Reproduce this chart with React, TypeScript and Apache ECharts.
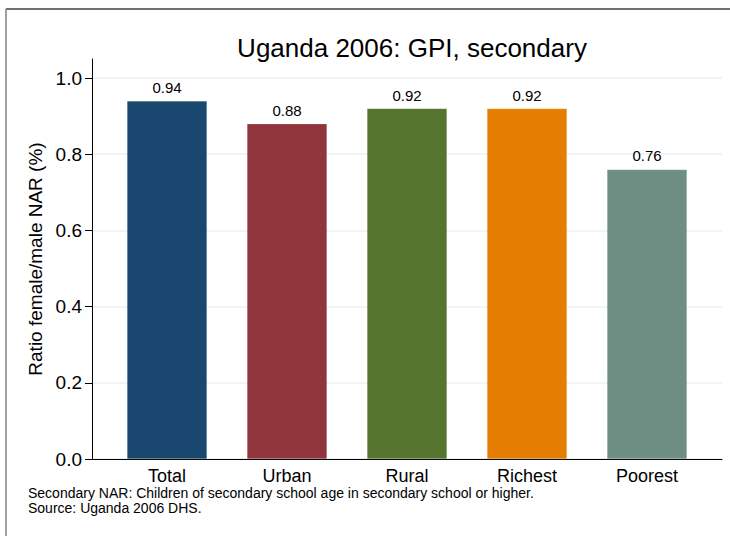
import React, { useEffect, useRef } from "react";
import * as echarts from "echarts";

const categories = ["Total", "Urban", "Rural", "Richest", "Poorest"];
const values = [0.94, 0.88, 0.92, 0.92, 0.76];
const colors = ["#1a476f", "#90353b", "#55752f", "#e37e00", "#6e8e84"];
const yTicks = [0, 0.2, 0.4, 0.6, 0.8, 1.0];
const titleText = "Uganda 2006: GPI, secondary";
const yTitle = "Ratio female/male NAR (%)";
const notes = [
  "Secondary NAR: Children of secondary school age in secondary school or higher.",
  "Source: Uganda 2006 DHS.",
];

const FONT = "Liberation Sans, Arial, sans-serif";

export default function App() {
  const ref = useRef<HTMLDivElement>(null);
  useEffect(() => {
    if (!ref.current) return;
    const chart = echarts.init(ref.current, undefined, { renderer: "svg" });
    chart.setOption({
      animation: false,
      backgroundColor: "#ffffff",
      textStyle: { fontFamily: FONT },
      title: {
        text: titleText,
        left: 407,
        top: 30,
        textAlign: "center",
        textStyle: { fontSize: 26, fontWeight: "normal", color: "#000", fontFamily: FONT },
      },
      grid: { left: 92, right: 8, top: 59, bottom: 77, containLabel: false },
      xAxis: {
        type: "value",
        min: -0.625,
        max: 4.625,
        axisLine: { show: true, onZero: false, lineStyle: { color: "#000", width: 1 } },
        axisTick: { show: false },
        splitLine: { show: false },
        axisLabel: {
          customValues: [0, 1, 2, 3, 4],
          formatter: (v: number) => categories[Math.round(v)] ?? "",
          fontSize: 18,
          color: "#000",
          margin: 8,
          fontFamily: FONT,
        },
      },
      yAxis: {
        type: "value",
        min: 0,
        max: 1.05,
        name: yTitle,
        nameLocation: "middle",
        nameGap: 44,
        nameTextStyle: { fontSize: 19, color: "#000", fontFamily: FONT },
        axisLine: { show: true, onZero: false, lineStyle: { color: "#000", width: 1 } },
        axisTick: { show: true, length: 7, customValues: yTicks, lineStyle: { color: "#000" } },
        axisLabel: {
          customValues: yTicks,
          formatter: (v: number) => v.toFixed(1),
          fontSize: 19,
          color: "#000",
          margin: 10,
          fontFamily: FONT,
        },
        splitLine: { show: true, lineStyle: { color: "#eaf2f3", width: 1.5 } },
      },
      series: [
        {
          type: "bar",
          barWidth: 80,
          data: values.map((v, i) => ({
            value: [i, v],
            itemStyle: { color: colors[i], borderColor: "rgba(255,255,255,0.35)", borderWidth: 0.5 },
          })),
          label: {
            show: true,
            position: "top",
            distance: 6,
            fontSize: 15,
            color: "#000",
            fontFamily: FONT,
            formatter: (p: any) => p.value[1].toFixed(2),
          },
        },
      ],
      graphic: [
        { type: "line", shape: { x1: 6, y1: 9, x2: 730, y2: 9 }, style: { stroke: "#707070", lineWidth: 2 } },
        { type: "line", shape: { x1: 6, y1: 9, x2: 6, y2: 536 }, style: { stroke: "#808080", lineWidth: 1.5 } },
        {
          type: "text",
          left: 28,
          top: 486,
          style: { text: notes[0], fontSize: 14, fill: "#000", fontFamily: FONT },
        },
        {
          type: "text",
          left: 28,
          top: 501,
          style: { text: notes[1], fontSize: 14, fill: "#000", fontFamily: FONT },
        },
      ],
    });
    return () => chart.dispose();
  }, []);
  return (
    <div
      ref={ref}
      style={{ position: "fixed", left: 0, top: 0, width: 730, height: 536 }}
    />
  );
}
